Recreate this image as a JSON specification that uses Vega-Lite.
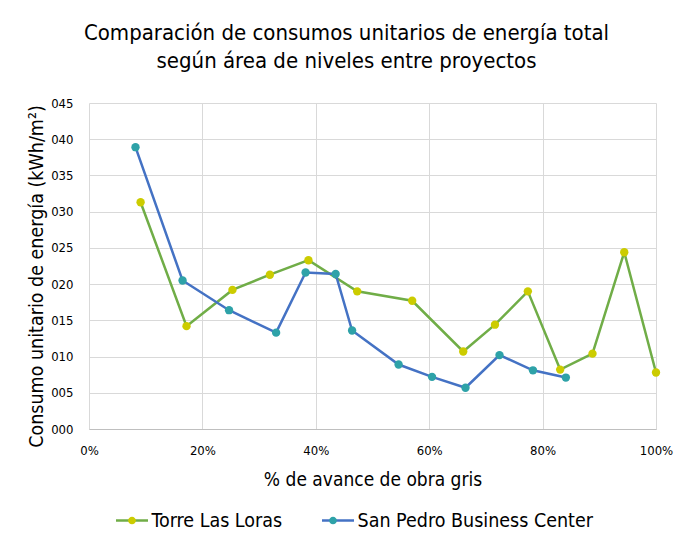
{
  "$schema": "https://vega.github.io/schema/vega-lite/v6.json",
  "width": 567,
  "height": 326,
  "autosize": {"type": "none"},
  "padding": {"left": 89, "top": 103, "right": 18, "bottom": 116},
  "background": "white",
  "title": {
    "text": ["Comparación de consumos unitarios de energía total", "según área de niveles entre proyectos"],
    "fontSize": 22,
    "fontWeight": "normal",
    "color": "#000000",
    "lineHeight": 28,
    "dx": -26,
    "offset": 24,
    "anchor": "middle"
  },
  "config": {
    "view": {"stroke": null},
    "font": "DejaVu Sans Condensed, DejaVu Sans, sans-serif",
    "title": {"font": "DejaVu Sans Condensed, DejaVu Sans, sans-serif"},
    "axis": {"labelFont": "DejaVu Sans Condensed, DejaVu Sans, sans-serif", "titleFont": "DejaVu Sans Condensed, DejaVu Sans, sans-serif"},
    "legend": {"labelFont": "DejaVu Sans Condensed, DejaVu Sans, sans-serif"}
  },
  "data": {
    "values": [
      {"project": "Torre Las Loras", "x": 0.091, "y": 0.0313},
      {"project": "Torre Las Loras", "x": 0.172, "y": 0.0142},
      {"project": "Torre Las Loras", "x": 0.253, "y": 0.0192},
      {"project": "Torre Las Loras", "x": 0.319, "y": 0.0213},
      {"project": "Torre Las Loras", "x": 0.387, "y": 0.0233},
      {"project": "Torre Las Loras", "x": 0.473, "y": 0.0190},
      {"project": "Torre Las Loras", "x": 0.570, "y": 0.0177},
      {"project": "Torre Las Loras", "x": 0.660, "y": 0.0107},
      {"project": "Torre Las Loras", "x": 0.716, "y": 0.0144},
      {"project": "Torre Las Loras", "x": 0.774, "y": 0.0190},
      {"project": "Torre Las Loras", "x": 0.831, "y": 0.0082},
      {"project": "Torre Las Loras", "x": 0.888, "y": 0.0104},
      {"project": "Torre Las Loras", "x": 0.944, "y": 0.0244},
      {"project": "Torre Las Loras", "x": 1.0, "y": 0.0078},
      {"project": "San Pedro Business Center", "x": 0.082, "y": 0.0389},
      {"project": "San Pedro Business Center", "x": 0.165, "y": 0.0205},
      {"project": "San Pedro Business Center", "x": 0.247, "y": 0.0164},
      {"project": "San Pedro Business Center", "x": 0.330, "y": 0.0133},
      {"project": "San Pedro Business Center", "x": 0.382, "y": 0.0216},
      {"project": "San Pedro Business Center", "x": 0.435, "y": 0.0214},
      {"project": "San Pedro Business Center", "x": 0.464, "y": 0.0136},
      {"project": "San Pedro Business Center", "x": 0.546, "y": 0.0089},
      {"project": "San Pedro Business Center", "x": 0.605, "y": 0.0072},
      {"project": "San Pedro Business Center", "x": 0.664, "y": 0.0057},
      {"project": "San Pedro Business Center", "x": 0.724, "y": 0.0102},
      {"project": "San Pedro Business Center", "x": 0.783, "y": 0.0081},
      {"project": "San Pedro Business Center", "x": 0.841, "y": 0.0071}
    ]
  },
  "encoding": {
    "x": {
      "field": "x",
      "type": "quantitative",
      "scale": {"domain": [0, 1], "nice": false, "zero": false},
      "axis": {
        "values": [0, 0.2, 0.4, 0.6, 0.8, 1],
        "format": ".0%",
        "title": "% de avance de obra gris",
        "grid": true,
        "gridColor": "#D9D9D9",
        "gridWidth": 1,
        "domainColor": "#BFBFBF",
        "domainWidth": 1,
        "ticks": false,
        "tickSize": 0,
        "labelPadding": 15,
        "labelFontSize": 13,
        "labelColor": "#000000",
        "labelFlush": false,
        "titleFontSize": 19,
        "titleFontWeight": "normal",
        "titleColor": "#000000",
        "titlePadding": 13
      }
    },
    "y": {
      "field": "y",
      "type": "quantitative",
      "scale": {"domain": [0, 0.045], "nice": false},
      "axis": {
        "values": [0, 0.005, 0.01, 0.015, 0.02, 0.025, 0.03, 0.035, 0.04, 0.045],
        "labelExpr": "replace(format(datum.value, '.3f'), '0.', '')",
        "title": "Consumo unitario de energía (kWh/m²)",
        "grid": true,
        "gridColor": "#D9D9D9",
        "gridWidth": 1,
        "domain": false,
        "ticks": false,
        "tickSize": 0,
        "labelPadding": 16,
        "labelFontSize": 13,
        "labelColor": "#000000",
        "labelFlush": false,
        "titleFontSize": 19.5,
        "titleFontWeight": "normal",
        "titleColor": "#000000",
        "titlePadding": 4,
        "titleY": 173
      }
    }
  },
  "layer": [
    {
      "mark": {"type": "line", "strokeWidth": 2.5},
      "encoding": {
        "color": {
          "field": "project",
          "type": "nominal",
          "scale": {"domain": ["Torre Las Loras", "San Pedro Business Center"], "range": ["#70AD47", "#4472C4"]},
          "legend": {
            "orient": "none",
            "legendX": 25.5,
            "legendY": 400,
            "direction": "horizontal",
            "title": null,
            "values": ["Torre Las Loras", "San Pedro Business Center"],
            "symbolType": "M-1,0L1,0",
            "symbolSize": 1024,
            "symbolStrokeWidth": 2.5,
            "labelFontSize": 19.5,
            "labelOffset": 2,
            "labelLimit": 0,
            "labelColor": "#000000",
            "columnPadding": 34,
            "padding": 0,
            "zindex": 0
          }
        }
      }
    },
    {
      "mark": {"type": "point", "filled": true, "size": 70, "opacity": 1},
      "encoding": {
        "fill": {
          "field": "project",
          "type": "nominal",
          "scale": {"domain": ["San Pedro Business Center", "Torre Las Loras"], "range": ["#2EA2A8", "#CCCC00"]},
          "legend": {
            "orient": "none",
            "legendX": 25.5,
            "legendY": 400,
            "direction": "horizontal",
            "title": null,
            "values": ["Torre Las Loras", "San Pedro Business Center"],
            "labelExpr": "''",
            "symbolType": "M0.24,0A0.24,0.24,0,1,1,-0.24,0A0.24,0.24,0,1,1,0.24,0Z",
            "symbolSize": 1024,
            "symbolStrokeWidth": 2.5,
            "symbolStrokeColor": "transparent",
            "symbolOpacity": 1,
            "labelFontSize": 19.5,
            "labelOffset": 2,
            "labelLimit": 0,
            "columnPadding": 164,
            "padding": 0,
            "zindex": 1
          }
        }
      }
    }
  ]
}
